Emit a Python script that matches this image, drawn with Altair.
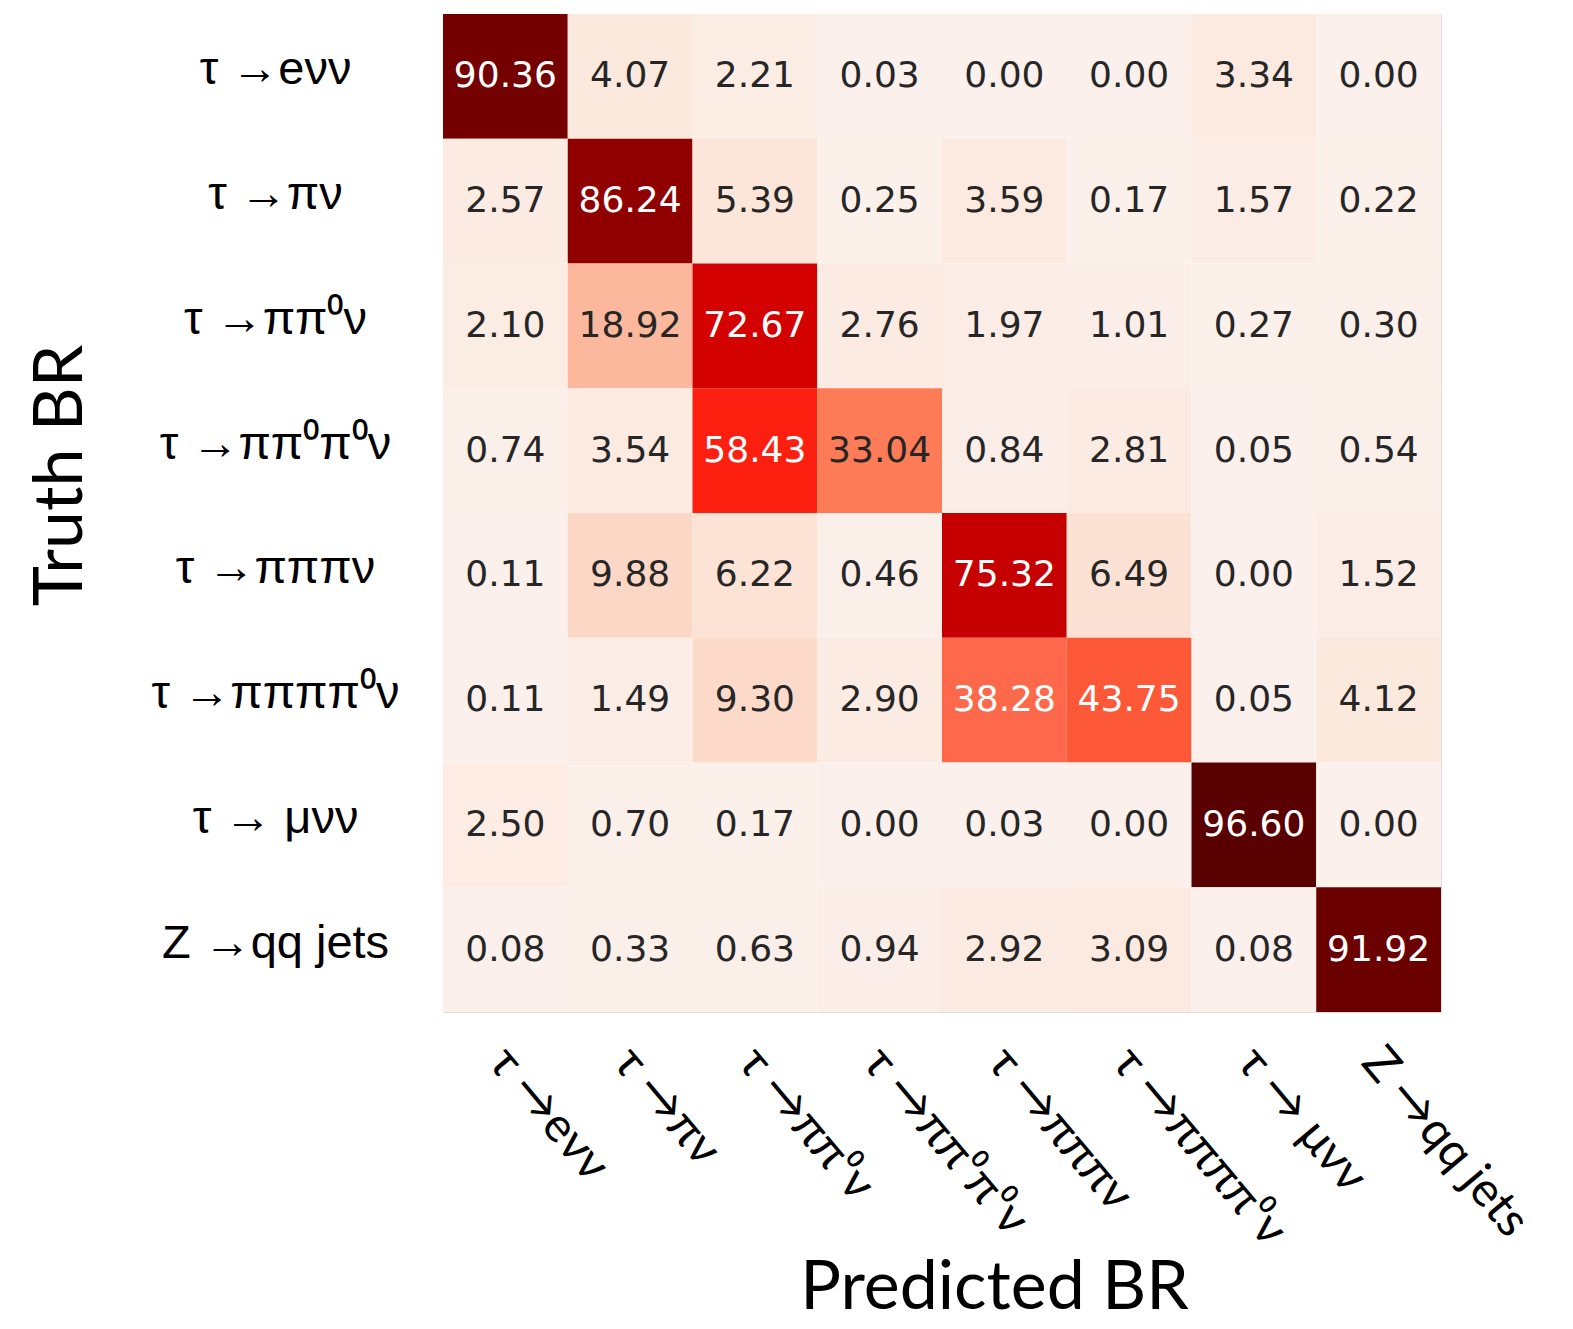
import altair as alt
import pandas as pd

truth = ["τ →eνν", "τ →πν", "τ →ππ⁰ν", "τ →ππ⁰π⁰ν", "τ →πππν", "τ →ππππ⁰ν", "τ → μνν", "Z →qq jets"]
pred = ["τ →eνν", "τ →πν", "τ →ππ⁰ν", "τ →ππ⁰π⁰ν", "τ →πππν", "τ →ππππ⁰ν", "τ → μνν", "Z →qq jets"]

row_evv = [90.36, 4.07, 2.21, 0.03, 0.00, 0.00, 3.34, 0.00]
row_piv = [2.57, 86.24, 5.39, 0.25, 3.59, 0.17, 1.57, 0.22]
row_pipi0v = [2.10, 18.92, 72.67, 2.76, 1.97, 1.01, 0.27, 0.30]
row_pipi0pi0v = [0.74, 3.54, 58.43, 33.04, 0.84, 2.81, 0.05, 0.54]
row_pipipiv = [0.11, 9.88, 6.22, 0.46, 75.32, 6.49, 0.00, 1.52]
row_pipipipi0v = [0.11, 1.49, 9.30, 2.90, 38.28, 43.75, 0.05, 4.12]
row_muvv = [2.50, 0.70, 0.17, 0.00, 0.03, 0.00, 96.60, 0.00]
row_zqq = [0.08, 0.33, 0.63, 0.94, 2.92, 3.09, 0.08, 91.92]

rows = [row_evv, row_piv, row_pipi0v, row_pipi0pi0v, row_pipipiv, row_pipipipi0v, row_muvv, row_zqq]

records = []
for t, vals in zip(truth, rows):
    for p, v in zip(pred, vals):
        records.append({"truth": t, "pred": p, "value": v, "label": f"{v:.2f}"})
df = pd.DataFrame(records)

color_domain = [0, 5, 19, 33, 38, 44, 58, 73, 75, 86, 90, 92, 97]
color_range = ["#fbf0eb", "#fce7db", "#fcb89c", "#fe7b57", "#fd6a4b", "#fd5737",
               "#fe2010", "#d20000", "#c80000", "#930000", "#770000", "#6a0000", "#580000"]

x_enc = alt.X("pred:N", sort=pred, title="Predicted BR",
              scale=alt.Scale(paddingInner=0, paddingOuter=0),
              axis=alt.Axis(orient="bottom", labelAngle=50, labelAlign="left", labelBaseline="middle",
                            labelFont="Lato", labelFontSize=48, labelColor="#000000",
                            labelPadding=42, labelOffset=-8, ticks=False, tickSize=0, domain=False, grid=False,
                            titleFont="Lato", titleFontSize=68, titleFontWeight="normal",
                            titleColor="#000000", titleX=551, titleY=296,
                            titleAlign="center", titleBaseline="alphabetic", labelLimit=0))
y_enc = alt.Y("truth:N", sort=truth, title="Truth BR",
              scale=alt.Scale(paddingInner=0, paddingOuter=0),
              axis=alt.Axis(orient="left", labelAlign="center", labelBaseline="middle",
                            labelFont="Liberation Sans", labelFontSize=47, labelColor="#000000",
                            labelPadding=168, labelOffset=-6, ticks=False, tickSize=0, domain=False, grid=False,
                            titleFont="Lato", titleFontSize=68, titleFontWeight="normal",
                            titleColor="#000000", titleAngle=270, titleX=-362, titleY=461,
                            titleAlign="center", titleBaseline="alphabetic", labelLimit=0))

rect = alt.Chart(df).mark_rect().encode(
    x=x_enc,
    y=y_enc,
    color=alt.Color("value:Q", scale=alt.Scale(domain=color_domain, range=color_range, interpolate="rgb"),
                    legend=None),
)

text = alt.Chart(df).mark_text(font="DejaVu Sans", fontSize=36, baseline="middle", align="center").encode(
    x=alt.X("pred:N", sort=pred),
    y=alt.Y("truth:N", sort=truth),
    text="label:N",
    color=alt.condition(alt.datum.value > 35, alt.value("#ffffff"), alt.value("#262626")),
)

chart = alt.layer(rect, text).properties(
    width=998, height=998,
    autosize=alt.AutoSizeParams(type="none"),
    padding={"left": 435, "top": 6, "right": 124, "bottom": 312},
).configure_view(stroke=None).configure(background="#ffffff")

chart.save("out.html", embed_options={"renderer": "svg", "actions": False})
